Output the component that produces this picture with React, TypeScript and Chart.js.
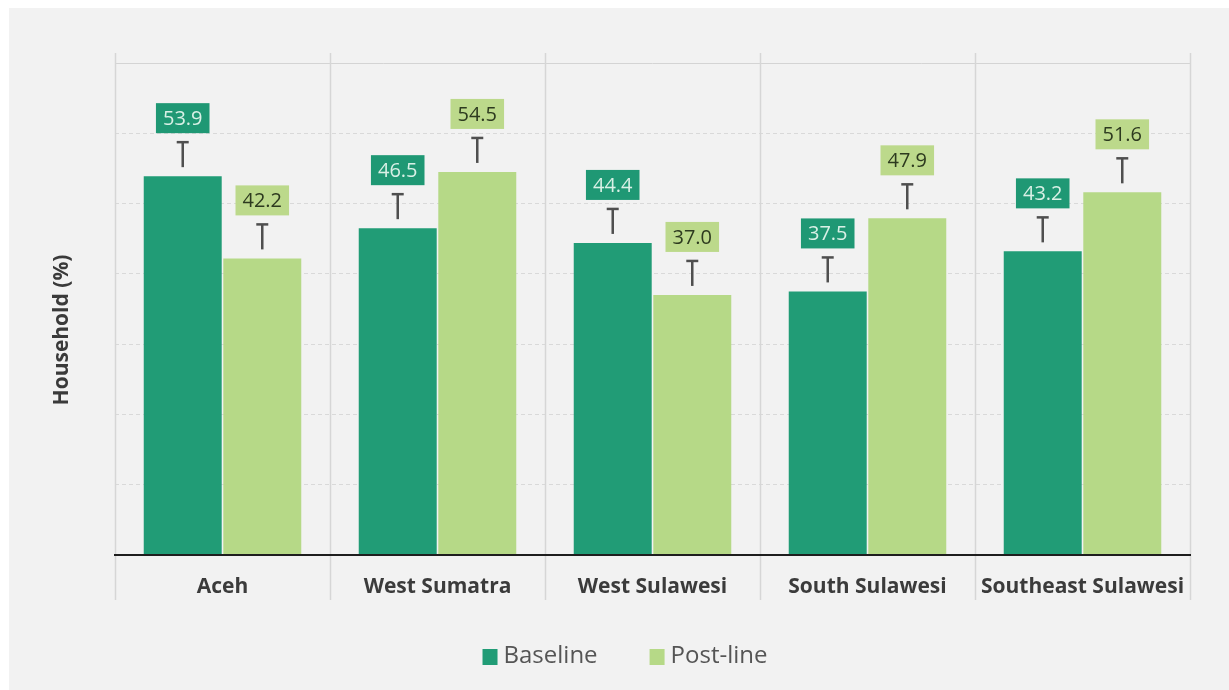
import React, { useEffect, useRef } from 'react';
import { Chart, registerables } from 'chart.js';

Chart.register(...registerables);

const categories = ['Aceh', 'West Sumatra', 'West Sulawesi', 'South Sulawesi', 'Southeast Sulawesi'];
const baselineValues = [53.9, 46.5, 44.4, 37.5, 43.2];
const postlineValues = [42.2, 54.5, 37.0, 47.9, 51.6];
const seriesLabels = ['Baseline', 'Post-line'];
const yTitle = 'Household (%)';
const yMin = 0;
const yMax = 70;
const yStep = 10;

const BASE_COLOR = '#219c76';
const POST_COLOR = '#b6d987';
const FONT = '"Open Sans", "Noto Sans", sans-serif';

const backgroundPlugin = {
  id: 'bgPanel',
  beforeDraw(chart: any) {
    const { ctx, width, height } = chart;
    ctx.save();
    ctx.fillStyle = '#ffffff';
    ctx.fillRect(0, 0, width, height);
    ctx.fillStyle = '#f2f2f2';
    ctx.fillRect(9, 8, width - 9, height - 8);
    ctx.restore();
  },
};

const separatorPlugin = {
  id: 'separators',
  beforeDatasetsDraw(chart: any) {
    const { ctx, chartArea } = chart;
    const x = chart.scales.x;
    const n = chart.data.labels.length;
    const step = (chartArea.right - chartArea.left) / n;
    ctx.save();
    // solid top gridline
    ctx.strokeStyle = '#d4d4d4';
    ctx.lineWidth = 1;
    ctx.beginPath();
    ctx.moveTo(chartArea.left, Math.round(chartArea.top) + 0.5);
    ctx.lineTo(chartArea.right, Math.round(chartArea.top) + 0.5);
    ctx.stroke();
    ctx.strokeStyle = '#d6d6d6';
    ctx.lineWidth = 1.5;
    for (let i = 0; i <= n; i++) {
      const px = i < n ? x.getPixelForValue(i) - step / 2 : x.getPixelForValue(n - 1) + step / 2;
      ctx.beginPath();
      ctx.moveTo(Math.round(px) + 0.5, chartArea.top - 10);
      ctx.lineTo(Math.round(px) + 0.5, chartArea.bottom + 45);
      ctx.stroke();
    }
    ctx.restore();
  },
};

const labelPlugin = {
  id: 'valueLabels',
  afterDatasetsDraw(chart: any) {
    const { ctx } = chart;
    const styles = [
      { bg: '#1f9874', fg: '#d9f0e6' },
      { bg: '#bcd98b', fg: '#2d3a1f' },
    ];
    ctx.save();
    chart.data.datasets.forEach((ds: any, di: number) => {
      const meta = chart.getDatasetMeta(di);
      meta.data.forEach((bar: any, i: number) => {
        const bx = bar.x;
        const by = bar.y;
        // error-bar style marker
        ctx.strokeStyle = '#4f4f4f';
        ctx.lineWidth = 2.5;
        ctx.beginPath();
        ctx.moveTo(bx, by - 9);
        ctx.lineTo(bx, by - 34);
        ctx.stroke();
        ctx.lineWidth = 2.5;
        ctx.beginPath();
        ctx.moveTo(bx - 6, by - 34);
        ctx.lineTo(bx + 6, by - 34);
        ctx.stroke();
        // label box
        const text = Number(ds.data[i]).toFixed(1);
        ctx.font = `20px ${FONT}`;
        const tw = ctx.measureText(text).width;
        const w = tw + 14;
        const h = 30;
        const top = by - 73;
        ctx.fillStyle = styles[di].bg;
        ctx.fillRect(bx - w / 2, top, w, h);
        ctx.fillStyle = styles[di].fg;
        ctx.textAlign = 'center';
        ctx.textBaseline = 'middle';
        ctx.fillText(text, bx, top + h / 2 + 1);
      });
    });
    ctx.restore();
  },
};

const decorPlugin = {
  id: 'legendAndTitle',
  afterDraw(chart: any) {
    const { ctx } = chart;
    ctx.save();
    // y axis title
    ctx.translate(62, 330);
    ctx.rotate(-Math.PI / 2);
    ctx.font = `bold 21px ${FONT}`;
    ctx.fillStyle = '#3a3a3a';
    ctx.textAlign = 'center';
    ctx.textBaseline = 'middle';
    ctx.fillText(yTitle, 0, 0);
    ctx.restore();

    // legend
    ctx.save();
    ctx.font = `24px ${FONT}`;
    ctx.textBaseline = 'middle';
    ctx.textAlign = 'left';
    const boxW = 15;
    const boxH = 16;
    const gap = 6;
    const itemGap = 52;
    const items = chart.data.datasets.map((ds: any) => ({
      label: ds.label,
      color: ds.backgroundColor,
      w: ctx.measureText(ds.label).width,
    }));
    const total = items.reduce((s: number, it: any) => s + boxW + gap + it.w, 0) + itemGap * (items.length - 1);
    let cx = 625 - total / 2;
    const cy = 656;
    items.forEach((it: any) => {
      ctx.fillStyle = it.color;
      ctx.fillRect(cx, cy - boxH / 2 + 1, boxW, boxH);
      ctx.fillStyle = '#555555';
      ctx.fillText(it.label, cx + boxW + gap, cy);
      cx += boxW + gap + it.w + itemGap;
    });
    ctx.restore();
  },
};

export default function App() {
  const canvasRef = useRef<HTMLCanvasElement | null>(null);

  useEffect(() => {
    document.body.style.margin = '0';
    const canvas = canvasRef.current;
    if (!canvas) return;
    const chart = new Chart(canvas, {
      type: 'bar',
      data: {
        labels: categories,
        datasets: [
          {
            label: seriesLabels[0],
            data: baselineValues,
            backgroundColor: BASE_COLOR,
            borderWidth: 0,
            barPercentage: 0.98,
            categoryPercentage: 0.74,
          },
          {
            label: seriesLabels[1],
            data: postlineValues,
            backgroundColor: POST_COLOR,
            borderWidth: 0,
            barPercentage: 0.98,
            categoryPercentage: 0.74,
          },
        ],
      },
      options: {
        animation: false,
        responsive: true,
        maintainAspectRatio: false,
        layout: { padding: { left: 115, right: 39, top: 63, bottom: 0 } },
        plugins: {
          legend: { display: false },
          tooltip: { enabled: false },
          title: { display: false },
        },
        scales: {
          x: {
            grid: { display: false, drawTicks: false },
            border: { display: true, color: '#1e1e1e', width: 2, z: 1 },
            ticks: {
              color: '#3b3b3b',
              font: { family: FONT, size: 21, weight: 'bold' },
              padding: 19,
              maxRotation: 0,
              autoSkip: false,
            },
            afterFit: (scale: any) => {
              scale.height = 135;
            },
          },
          y: {
            min: yMin,
            max: yMax,
            ticks: { display: false, stepSize: yStep },
            border: { display: false, dash: [4, 3] },
            grid: {
              drawTicks: false,
              color: (c: any) => (c.tick && (c.tick.value === yMax || c.tick.value === yMin) ? 'rgba(0,0,0,0)' : '#d9d9d9'),
              lineWidth: 1,
            },
            afterFit: (scale: any) => {
              scale.width = 0;
            },
          },
        },
      },
      plugins: [backgroundPlugin, separatorPlugin, labelPlugin, decorPlugin],
    } as any);
    return () => chart.destroy();
  }, []);

  return (
    <div style={{ position: 'relative', width: 1229, height: 690 }}>
      <canvas ref={canvasRef} />
    </div>
  );
}
